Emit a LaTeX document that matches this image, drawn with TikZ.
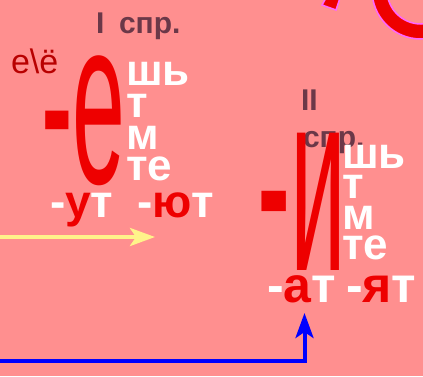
\documentclass[tikz,border=0pt]{standalone}
\usepackage{fontspec}
\setmainfont{Liberation Sans}
\usetikzlibrary{calc,arrows.meta}
\definecolor{cj-bg}{HTML}{FF8F8F}
\definecolor{cj-red}{HTML}{EE0000}
\definecolor{cj-dark}{HTML}{6B3848}
\definecolor{cj-darkred}{HTML}{B80000}
\definecolor{cj-yellow}{HTML}{FFF38A}
\definecolor{cj-blue}{HTML}{0000FF}
\definecolor{cj-pink}{HTML}{FF66FF}
\newcommand{\redl}[1]{\textcolor{cj-red}{#1}}
\tikzset{
  lbl/.style={anchor=base west, inner sep=0pt, outer sep=0pt},
  ending/.style={lbl, text=white, font=\bfseries\fontsize{44}{44}\selectfont},
  suffix/.style={lbl, text=white, font=\bfseries\fontsize{#1}{#1}\selectfont},
  big/.style={lbl, text=cj-red, font=\fontsize{#1}{#1}\selectfont},
  conj/.style={lbl, text=cj-dark, font=\bfseries\fontsize{30}{30}\selectfont},
  arr/.style={line width=4pt, -{Stealth[length=25pt,width=18pt,inset=6pt]}}
}

\begin{document}
\begin{tikzpicture}[x=1pt,y=-1pt]
    \fill[cj-bg] (0,0) rectangle (423,376);
    \useasboundingbox (0,0) rectangle (423,376);
    \clip (0,0) rectangle (423,376);
    % fragment in the corner
    \fill[cj-red, draw=cj-pink, line width=1.5pt] (326,-2) -- (340,-2) -- (336,10) -- (322,5) -- cycle;
    \fill[cj-red, draw=cj-pink, line width=1.5pt, even odd rule] (421,-10) circle (49pt) (421,-10) circle (34pt);
    % I conjugation
    \node[conj] (c1num) at (96,33) {I};
    \node[conj] (c1) at (119,33) {спр.};
    \node[lbl, text=cj-darkred, font=\fontsize{34}{34}\selectfont] (eyo) at (11,73) {е\textbackslash ё};
    \node[big=95] (e) at (41,183) {\scalebox{1}[2.5]{-е}};
    \node[ending] (e1) at (126,85) {шь};
    \node[ending] (e2) at (126,117) {т};
    \node[ending] (e3) at (126,149) {м};
    \node[ending] (e4) at (126,180) {те};
    \node[suffix=46] (ut) at (50,217) {-\redl{у}т};
    \node[suffix=46] (yut) at (137,217) {-\redl{ю}т};
    % II conjugation
    \node[conj] (c2num) at (301,110) {II};
    \node[conj] (c2) at (303,147) {спр.};
    \node[big=100] (i) at (257.5,270) {\scalebox{1}[2.6]{-и}};
    \node[ending] (i1) at (342,168) {шь};
    \node[ending] (i2) at (342,198) {т};
    \node[ending] (i3) at (342,229) {м};
    \node[ending] (i4) at (342,259) {те};
    \node[suffix=50] (at) at (267,302) {-\redl{а}т};
    \node[suffix=50] (yat) at (346,302) {-\redl{я}т};
    % arrows
    \coordinate (ystart) at (0,237);
    \coordinate (yend) at (155,237);
    \draw[arr, cj-yellow] (ystart) -- (yend);
    \coordinate (bstart) at (0,361);
    \coordinate (bend) at (304.5,313);
    \draw[arr, cj-blue] (bstart) -| (bend);
\end{tikzpicture}
\end{document}
